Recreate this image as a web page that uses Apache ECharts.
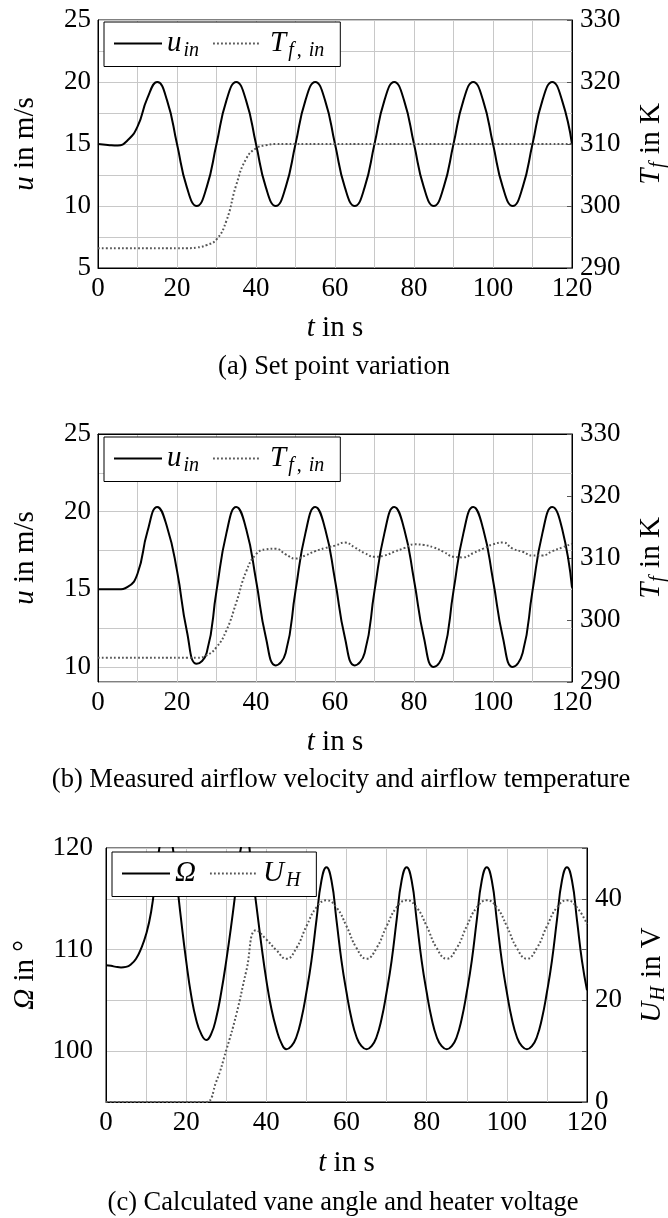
<!DOCTYPE html>
<html><head><meta charset="utf-8">
<script src="https://cdn.jsdelivr.net/npm/echarts@6/dist/echarts.min.js"></script>
<style>html,body{margin:0;padding:0;background:#fff}#c{width:668px;height:1218px}</style>
</head><body><div id="c"></div>
<script>
// ---------- data ----------
const t_25 = [0,2.5,5,7.5,10,12.5,15,17.5,20,22.5,25,27.5,30,32.5,35,37.5,40,42.5,45,47.5,50,52.5,55,57.5,60,62.5,65,67.5,70,72.5,75,77.5,80,82.5,85,87.5,90,92.5,95,97.5,100,102.5,105,107.5,110,112.5,115,117.5,120];
const t_125 = [0,1.25,2.5,3.75,5,6.25,7.5,8.75,10,11.25,12.5,13.75,15,16.25,17.5,18.75,20,21.25,22.5,23.75,25,26.25,27.5,28.75,30,31.25,32.5,33.75,35,36.25,37.5,38.75,40,41.25,42.5,43.75,45,46.25,47.5,48.75,50,51.25,52.5,53.75,55,56.25,57.5,58.75,60,61.25,62.5,63.75,65,66.25,67.5,68.75,70,71.25,72.5,73.75,75,76.25,77.5,78.75,80,81.25,82.5,83.75,85,86.25,87.5,88.75,90,91.25,92.5,93.75,95,96.25,97.5,98.75,100,101.25,102.5,103.75,105,106.25,107.5,108.75,110,111.25,112.5,113.75,115,116.25,117.5,118.75,120];

// (a) set point variation
const u_in_set = [15.0,14.92,14.87,15.3,16.4,18.7,20.0,18.5,15.0,11.5,10.0,11.5,15.0,18.5,20.0,18.5,15.0,11.5,10.0,11.5,15.0,18.5,20.0,18.5,15.0,11.5,10.0,11.5,15.0,18.5,20.0,18.5,15.0,11.5,10.0,11.5,15.0,18.5,20.0,18.5,15.0,11.5,10.0,11.5,15.0,18.5,20.0,18.5,15.0];
const T_in_set = [293.2,293.2,293.2,293.2,293.2,293.2,293.2,293.2,293.2,293.2,293.3,293.7,294.6,297.6,303.4,307.6,309.3,309.8,310.0,310.0,310.0,310.0,310.0,310.0,310.0,310.0,310.0,310.0,310.0,310.0,310.0,310.0,310.0,310.0,310.0,310.0,310.0,310.0,310.0,310.0,310.0,310.0,310.0,310.0,310.0,310.0,310.0,310.0,310.0];

// (b) measured
const u_in_meas = [15.0,15.0,15.0,15.15,16.0,18.7,20.3,19.0,16.2,12.3,10.2,10.9,14.9,18.6,20.3,18.9,15.6,11.9,10.1,10.9,14.9,18.6,20.3,18.9,15.6,11.9,10.1,10.9,14.9,18.6,20.3,18.9,15.6,11.9,10.0,10.9,14.9,18.6,20.3,18.9,15.6,11.9,10.0,10.9,14.9,18.6,20.3,18.9,15.1];
const T_in_meas = [293.9,293.9,293.9,293.9,293.9,293.9,293.9,293.9,293.9,293.9,293.9,294.3,295.6,298.3,302.8,307.8,310.6,311.4,311.5,310.6,309.9,310.4,311.1,311.6,312.0,312.5,311.7,310.8,310.2,310.4,311.0,311.6,312.2,312.1,311.7,311.0,310.2,310.1,310.8,311.5,312.2,312.5,311.5,311.0,310.4,310.4,311.1,311.7,312.3];

// (c) calculated vane angle and heater voltage
const omega = [108.45,108.4,108.3,108.25,108.3,108.55,109.1,110.1,111.5,113.7,117.4,121.0,122.5,121.0,117.2,112.9,108.9,105.5,103.1,101.7,101.1,101.7,103.3,105.8,108.9,112.4,116.3,120.2,120.9,118.2,114.4,110.5,107.0,104.2,102.2,100.8,100.2,100.5,101.4,103.2,105.8,108.9,112.9,116.8,118.1,116.8,112.9,108.9,105.8,103.2,101.4,100.5,100.2,100.5,101.4,103.2,105.8,108.9,112.9,116.8,118.1,116.8,112.9,108.9,105.8,103.2,101.4,100.5,100.2,100.5,101.4,103.2,105.8,108.9,112.9,116.8,118.1,116.8,112.9,108.9,105.8,103.2,101.4,100.5,100.2,100.5,101.4,103.2,105.8,108.9,112.9,116.8,118.1,116.8,112.9,108.9,106.0];
const U_H = [0,0,0,0,0,0,0,0,0,0,0,4.0,10.2,17.2,25.8,33.8,32.0,29.9,28.2,30.3,34.6,38.3,39.7,38.3,34.6,30.3,28.2,30.3,34.6,38.3,39.7,38.3,34.6,30.3,28.2,30.3,34.6,38.3,39.7,38.3,34.6,30.3,28.2,30.3,34.6,38.3,39.7,38.3,35.0];

const captions = ['(a) Set point variation', '(b) Measured airflow velocity and airflow temperature', '(c) Calculated vane angle and heater voltage'];

// ---------- styling ----------
const FONT = 'Liberation Serif';
const RICH = {
  i: {fontFamily: FONT, fontStyle: 'italic', fontSize: 29, color: '#000'},
  it: {fontFamily: FONT, fontStyle: 'italic', fontSize: 29, color: '#000', padding: [0, 0, 0, 4]},
  s: {fontFamily: FONT, fontStyle: 'italic', fontSize: 20, color: '#000', padding: [14, 1, 0, 1]},
  sl: {fontFamily: FONT, fontStyle: 'italic', fontSize: 20, color: '#000', padding: [14, 2, 0, 2]},
  sr: {fontFamily: FONT, fontSize: 20, color: '#000', padding: [14, 5, 0, 1]}
};
const LEG = {
  u_a: '{i|u}{sl|in}', T_a: '{it|T}{sl|f}{sr|,}{sl|in}',
  u_b: '{i|u}{sl|in}', T_b: '{it|T}{sl|f}{sr|,}{sl|in}',
  om: '{i|Ω}', uh: '{i|U}{sl|H}'
};
const GRIDC = '#c8c8c8';
const SOLID = {color: '#000', width: 2, type: 'solid'};
const DOT = {color: '#555555', width: 2, type: [1.8, 2.2]};
const nameStyle = {fontFamily: FONT, fontSize: 29, color: '#000', rich: RICH};
const lblStyle = {fontFamily: FONT, fontSize: 27, color: '#000'};
const mult = (v, m) => Math.abs(v / m - Math.round(v / m)) < 1e-6;

function xAx(gi, gap) {
  return {
    type: 'value', gridIndex: gi, min: 0, max: 120, interval: 10,
    name: '{i|t} in s', nameLocation: 'middle', nameGap: gap, nameTextStyle: nameStyle,
    axisLine: {show: true, lineStyle: {color: '#000', width: 1}},
    axisTick: {show: false},
    axisLabel: Object.assign({margin: 7, showMinLabel: true, showMaxLabel: true,
      formatter: v => mult(v, 20) ? String(v) : ''}, lblStyle),
    splitLine: {show: true, lineStyle: {color: GRIDC, width: 1}}
  };
}
function rightAx(gi, min, max, interval, name, gap, fmt) {
  return {
    type: 'value', gridIndex: gi, position: 'right', min, max, interval,
    name, nameLocation: 'middle', nameRotate: 90, nameGap: gap, nameTextStyle: nameStyle,
    axisLine: {show: true, lineStyle: {color: '#000', width: 1}},
    axisTick: {show: true, inside: true, length: 5, lineStyle: {color: '#555'}},
    axisLabel: Object.assign({margin: 8, showMinLabel: true, showMaxLabel: true, formatter: fmt}, lblStyle),
    splitLine: {show: false}
  };
}

const grids = [
  {left: 98, top: 20, width: 474, height: 248},
  {left: 98, top: 434, width: 474, height: 248},
  {left: 106, top: 848, width: 481, height: 254}
].map(g => Object.assign({show: true, borderColor: '#000', borderWidth: 1, backgroundColor: '#fff',
  containLabel: false, outerBoundsMode: 'none'}, g));

const yAxes = [
  // 0: (a) left
  {type: 'value', gridIndex: 0, position: 'left', min: 5, max: 25, interval: 5,
   name: '{i|u} in m/s', nameLocation: 'middle', nameRotate: 90, nameGap: 58, nameTextStyle: nameStyle,
   axisLine: {show: true, lineStyle: {color: '#000'}}, axisTick: {show: false},
   axisLabel: Object.assign({margin: 7, showMinLabel: true, showMaxLabel: true}, lblStyle),
   splitLine: {show: true, lineStyle: {color: GRIDC, width: 1}},
   minorTick: {show: false, splitNumber: 2},
   minorSplitLine: {show: true, lineStyle: {color: GRIDC, width: 1}}},
  // 1: (a) right
  rightAx(0, 290, 330, 10, '{i|T}{s|f} in K', 62, v => String(v)),
  // 2: (b) hidden data axis for u
  {type: 'value', gridIndex: 1, position: 'left', min: 9.03, max: 25, show: false},
  // 3: (b) visible left axis (measured downward from 25 m/s)
  {type: 'value', gridIndex: 1, position: 'left', inverse: true, min: 0, max: 15.97, interval: 2.5,
   name: '{i|u} in m/s', nameLocation: 'middle', nameRotate: 90, nameGap: 58, nameTextStyle: nameStyle,
   axisLine: {show: true, lineStyle: {color: '#000'}}, axisTick: {show: false},
   axisLabel: Object.assign({margin: 7, showMinLabel: true, showMaxLabel: true,
     formatter: v => mult(v, 5) ? String(Math.round(25 - v)) : ''}, lblStyle),
   splitLine: {show: true, lineStyle: {color: GRIDC, width: 1}}},
  // 4: (b) right
  rightAx(1, 290, 330, 10, '{i|T}{s|f} in K', 62, v => String(v)),
  // 5: (c) left
  {type: 'value', gridIndex: 2, position: 'left', min: 95, max: 120, interval: 5,
   name: '{i|Ω} in °', nameLocation: 'middle', nameRotate: 90, nameGap: 66, nameTextStyle: nameStyle,
   axisLine: {show: true, lineStyle: {color: '#000'}}, axisTick: {show: false},
   axisLabel: Object.assign({margin: 13, showMinLabel: true, showMaxLabel: true,
     formatter: v => (mult(v, 10) ? String(v) : '')}, lblStyle),
   splitLine: {show: true, lineStyle: {color: GRIDC, width: 1}}},
  // 6: (c) right
  rightAx(2, 0, 50, 10, '{i|U}{s|H} in V', 48, v => (mult(v, 20) ? String(v) : ''))
];

const pairs = (t, v) => t.map((x, i) => [x, v[i]]);
function ser(name, xi, yi, t, v, ls) {
  return {name, type: 'line', xAxisIndex: xi, yAxisIndex: yi, data: pairs(t, v),
    symbol: 'none', showSymbol: false, smooth: true, lineStyle: ls, itemStyle: {color: ls.color},
    silent: true, animation: false, z: 3};
}

function legend(data, left, top) {
  return {data, left, top, orient: 'horizontal', formatter: n => LEG[n],
    itemWidth: 48, itemHeight: 14, itemGap: 13, padding: [7, 16, 6, 9],
    borderColor: '#000', borderWidth: 1, borderRadius: 0, backgroundColor: '#fff',
    selectedMode: false, itemStyle: {opacity: 0},
    textStyle: {fontFamily: FONT, fontSize: 29, color: '#000', rich: RICH}, z: 10};
}

const capPos = [[334, 367], [341, 780], [343, 1203]];

const option = {
  backgroundColor: '#fff',
  animation: false,
  grid: grids,
  xAxis: [xAx(0, 46), xAx(1, 46), xAx(2, 47)],
  yAxis: yAxes,
  legend: [legend(['u_a', 'T_a'], 104, 22), legend(['u_b', 'T_b'], 104, 437), legend(['om', 'uh'], 112, 852)],
  series: [
    ser('u_a', 0, 0, t_25, u_in_set, SOLID),
    ser('T_a', 0, 1, t_25, T_in_set, DOT),
    ser('u_b', 1, 2, t_25, u_in_meas, SOLID),
    ser('T_b', 1, 4, t_25, T_in_meas, DOT),
    ser('om', 2, 5, t_125, omega, SOLID),
    ser('uh', 2, 6, t_25, U_H, DOT)
  ],
  graphic: captions.map((c, i) => ({type: 'text', x: capPos[i][0], y: capPos[i][1], silent: true,
    style: {text: c, fontFamily: FONT, fontSize: 26.5, fill: '#000', textAlign: 'center', textVerticalAlign: 'middle'}}))
};

const chart = echarts.init(document.getElementById('c'), null, {renderer: 'canvas'});
chart.setOption(option);
</script></body></html>
